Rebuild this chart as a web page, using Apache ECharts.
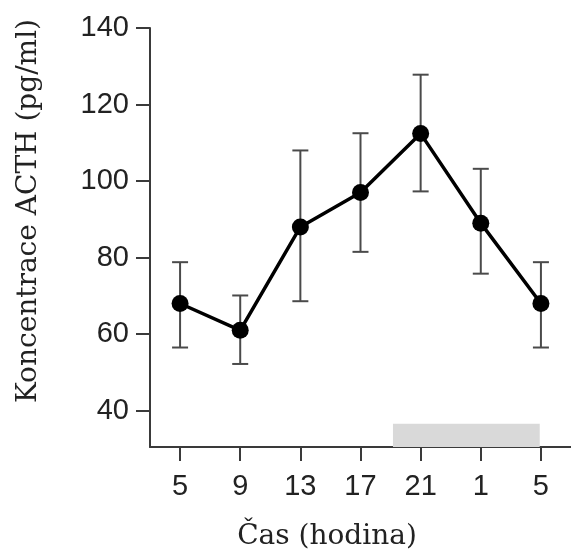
<!DOCTYPE html>
<html lang="cs">
<head>
    <meta charset="utf-8"/>
    <title>ACTH</title>
    <script src="https://cdn.jsdelivr.net/npm/echarts@6/dist/echarts.min.js"></script>
    <style>
        html, body { margin: 0; padding: 0; background: #fff; }
        #chart { width: 571px; height: 557px; }
    </style>
</head>
<body>
<div id="chart"></div>
<script type="text/javascript">
    // hodiny odberu
    var hours = ['5', '9', '13', '17', '21', '1', '5'];
    var acthMean = [68, 61, 88, 97, 112.4, 89, 68];
    var acthLow = [56.5, 52.2, 68.6, 81.5, 97.3, 75.8, 56.5];
    var acthHigh = [78.8, 70.1, 108, 112.5, 127.8, 103.2, 78.8];
    var yTicks = [40, 60, 80, 100, 120, 140];
    // noc (sedy pruh), v indexech kategorii
    var nightStart = 3.54, nightEnd = 5.98;

    var dom = document.getElementById('chart');
    var myChart = echarts.init(dom);

    var linePts = acthMean.map(function (v, i) { return [i, v]; });
    var errPts = acthMean.map(function (v, i) { return [i, acthLow[i], acthHigh[i]]; });
    var xIdx = hours.map(function (h, i) { return i; });

    var axisCol = '#3a3a3a';
    var yMin = 30.5;

    var option = {
        animation: false,
        grid: { left: 150, right: -2, top: 28, bottom: 110 },
        xAxis: {
            type: 'value',
            min: -0.5,
            max: 6.5,
            splitLine: { show: false },
            axisLine: { onZero: false, lineStyle: { color: axisCol, width: 2 } },
            axisTick: { show: true, length: 14, lineStyle: { color: axisCol, width: 2 },
                customValues: xIdx },
            axisLabel: {
                customValues: xIdx,
                formatter: function (v) { return hours[Math.round(v)]; },
                fontFamily: 'Liberation Sans', fontSize: 29, color: '#222', margin: 25
            }
        },
        yAxis: {
            type: 'value',
            min: yMin,
            max: 140,
            splitLine: { show: false },
            axisLine: { show: true, onZero: false, lineStyle: { color: axisCol, width: 2 } },
            axisTick: { show: true, length: 14, lineStyle: { color: axisCol, width: 2 },
                customValues: yTicks },
            axisLabel: {
                customValues: yTicks,
                fontFamily: 'Liberation Sans', fontSize: 29, color: '#222', margin: 21
            }
        },
        graphic: [
            {
                type: 'text', x: 29, y: 211, rotation: Math.PI / 2,
                style: {
                    text: 'Koncentrace ACTH (pg/ml)', fill: '#222',
                    font: '28px "DejaVu Serif"', align: 'center', verticalAlign: 'middle'
                }
            },
            {
                type: 'text', x: 327, y: 537,
                style: {
                    text: 'Čas (hodina)', fill: '#222',
                    font: '28px "DejaVu Serif"', align: 'center', verticalAlign: 'middle'
                }
            }
        ],
        series: [
            {
                type: 'custom',
                data: errPts,
                z: 2,
                renderItem: function (params, api) {
                    var x = api.value(0);
                    var lo = api.coord([x, api.value(1)]);
                    var hi = api.coord([x, api.value(2)]);
                    var w = 8;
                    var st = { stroke: '#4a4a4a', lineWidth: 2 };
                    return {
                        type: 'group',
                        children: [
                            { type: 'line', shape: { x1: lo[0], y1: lo[1], x2: hi[0], y2: hi[1] }, style: st },
                            { type: 'line', shape: { x1: lo[0] - w, y1: lo[1], x2: lo[0] + w, y2: lo[1] }, style: st },
                            { type: 'line', shape: { x1: hi[0] - w, y1: hi[1], x2: hi[0] + w, y2: hi[1] }, style: st }
                        ]
                    };
                }
            },
            {
                type: 'line',
                data: linePts,
                z: 3,
                symbol: 'circle',
                symbolSize: 17,
                itemStyle: { color: '#000' },
                lineStyle: { color: '#000', width: 3.5 },
                markArea: {
                    silent: true,
                    itemStyle: { color: '#d9d9d9' },
                    data: [[{ coord: [nightStart, yMin] }, { coord: [nightEnd, 36.6] }]]
                }
            }
        ]
    };

    myChart.setOption(option, true);
</script>
</body>
</html>
